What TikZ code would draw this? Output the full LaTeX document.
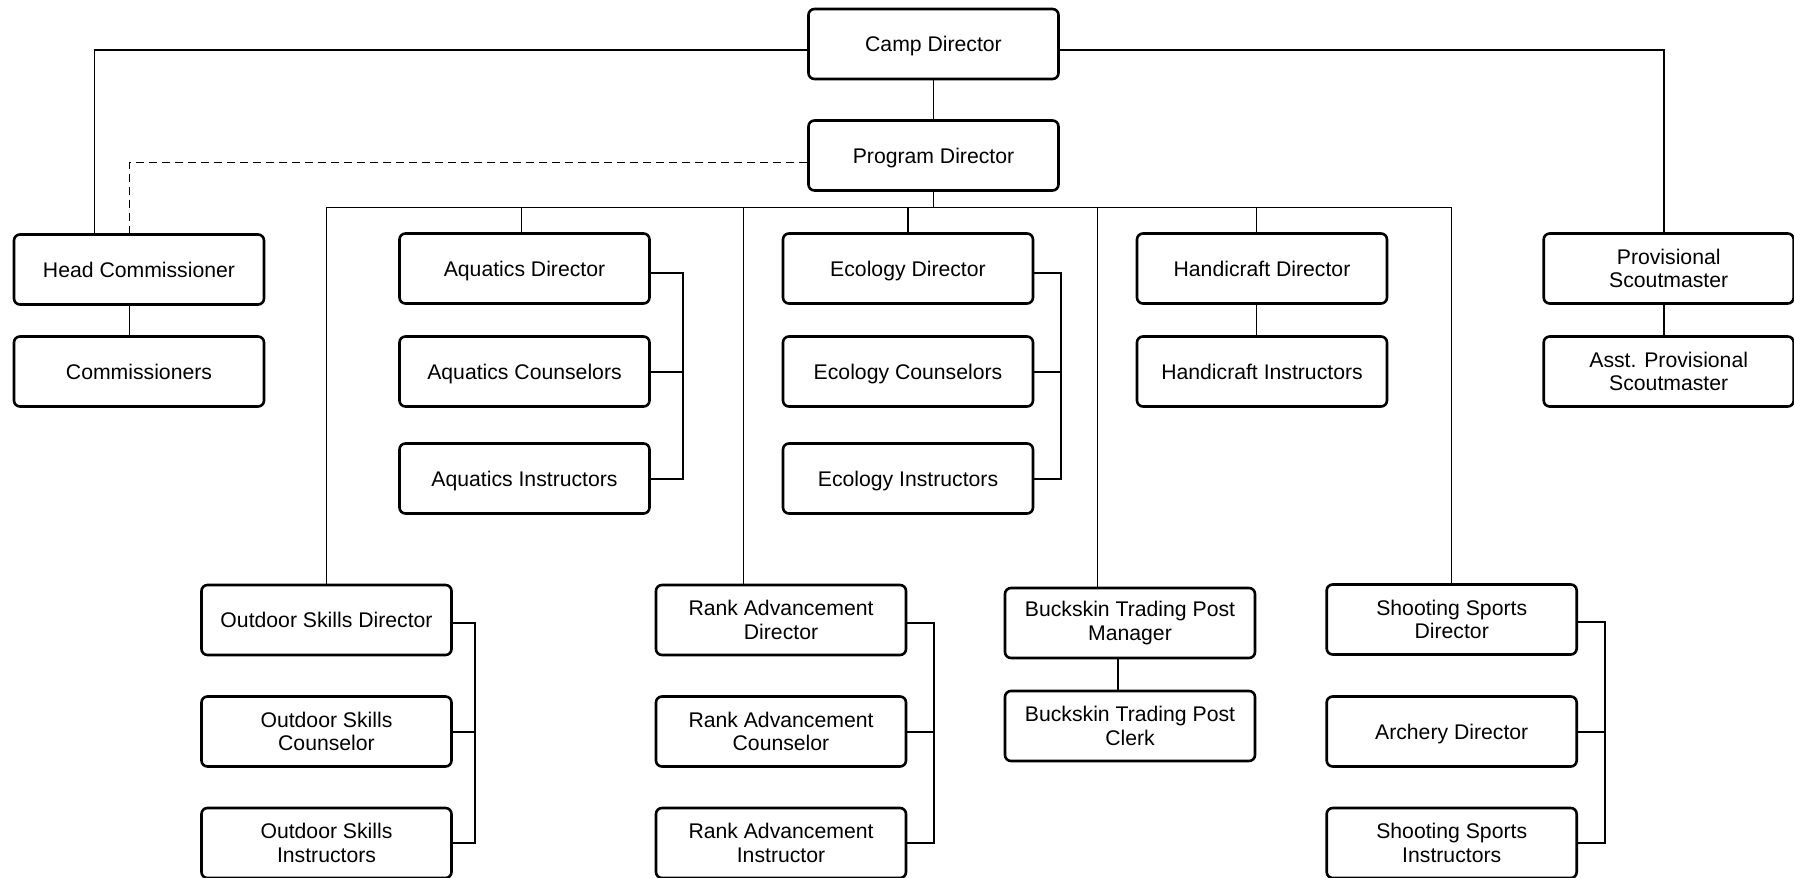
\documentclass[tikz,border=0pt]{standalone}
\usepackage{fontspec}
\setmainfont{Liberation Sans}
\begin{document}
\begin{tikzpicture}[x=0.5pt,y=-0.5pt,
  box/.style={draw, line width=1.3pt, rounded corners=3pt, minimum width=125pt, minimum height=35pt,
    align=center, inner sep=2pt, font=\fontsize{10.6}{11.8}\selectfont},
  one/.style={box, text depth=0pt},
  link/.style={line width=0.65pt},
  brk/.style={line width=1pt},
  dsh/.style={line width=0.65pt, dash pattern=on 4pt off 2.5pt}]
\useasboundingbox (0,0) rectangle (1794,878);

\node[one] (camp) at (933.5,44) {Camp Director};
\node[one] (prog) at (933.5,155.5) {Program Director};
\node[one] (head) at (139,269.5) {Head Commissioner};
\node[one] (comm) at (139,371.5) {Commissioners};
\node[one] (aqd) at (524.5,268.5) {Aquatics Director};
\node[one] (aqc) at (524.5,371.5) {Aquatics Counselors};
\node[one] (aqi) at (524.5,478.5) {Aquatics Instructors};
\node[one] (ecd) at (908,268.5) {Ecology Director};
\node[one] (ecc) at (908,371.5) {Ecology Counselors};
\node[one] (eci) at (908,478.5) {Ecology Instructors};
\node[one] (hcd) at (1262,268.5) {Handicraft Director};
\node[one] (hci) at (1262,371.5) {Handicraft Instructors};
\node[box] (prov) at (1668.7,268.5) {Provisional\\Scoutmaster};
\node[box] (aprov) at (1668.7,371.5) {Asst. Provisional\\Scoutmaster};
\node[one] (osd) at (326.5,620) {Outdoor Skills Director};
\node[box] (osc) at (326.5,731.5) {Outdoor Skills\\Counselor};
\node[box] (osi) at (326.5,843) {Outdoor Skills\\Instructors};
\node[box] (rad) at (781,620) {Rank Advancement\\Director};
\node[box] (rac) at (781,731.5) {Rank Advancement\\Counselor};
\node[box] (rai) at (781,843) {Rank Advancement\\Instructor};
\node[box] (btm) at (1130,623) {Buckskin Trading Post\\Manager};
\node[box] (btc) at (1130,726) {Buckskin Trading Post\\Clerk};
\node[box] (ssd) at (1451.7,619.5) {Shooting Sports\\Director};
\node[one] (arc) at (1451.7,731.5) {Archery Director};
\node[box] (ssi) at (1451.7,843) {Shooting Sports\\Instructors};

% top level
\draw[link] ([yshift=-3pt]camp.west) -| ([xshift=-22.2pt]head.north);
\draw[link] ([yshift=-3pt]camp.east) -| ([xshift=-2.35pt]prov.north);
\draw[link] (camp) -- (prog);
\draw[dsh] ([yshift=-3.6pt]prog.west) -| ([xshift=-4.9pt]head.north);
\draw[link] ([xshift=-4.9pt]head.south) -- ([xshift=-4.9pt]comm.north);
\draw[link] ([xshift=-2.35pt]prov.south) -- ([xshift=-2.35pt]aprov.north);

% program bus
\draw[link] (prog.south) -- ++(0,16) coordinate (bj);
\draw[link] (bj) -| (osd.north);
\draw[link] (bj) -| ([xshift=-1.35pt]aqd.north);
\draw[link] (bj) -| ([xshift=-18.8pt]rad.north);
\draw[link] (bj) -| (ecd.north);
\draw[link] (bj) -| ([xshift=-16.35pt]btm.north);
\draw[link] (bj) -| ([xshift=-2.7pt]hcd.north);
\draw[link] (bj) -| (ssd.north);

\draw[link] ([xshift=-2.7pt]hcd.south) -- ([xshift=-2.7pt]hci.north);
\draw[link] ([xshift=-6pt]btm.south) -- ([xshift=-6pt]btc.north);

% brackets
\draw[brk] ([yshift=-2pt]aqd.east) -- ++(32,0) |- (aqi.east);
\draw[brk] (aqc.east) -- ++(32,0);
\draw[brk] ([yshift=-2pt]ecd.east) -- ++(26.5,0) |- (eci.east);
\draw[brk] (ecc.east) -- ++(26.5,0);
\draw[brk] ([yshift=-1.3pt]osd.east) -- ++(22,0) |- (osi.east);
\draw[brk] (osc.east) -- ++(22,0);
\draw[brk] ([yshift=-1.3pt]rad.east) -- ++(27,0) |- (rai.east);
\draw[brk] (rac.east) -- ++(27,0);
\draw[brk] ([yshift=-1.3pt]ssd.east) -- ++(27,0) |- (ssi.east);
\draw[brk] (arc.east) -- ++(27,0);
\end{tikzpicture}
\end{document}
